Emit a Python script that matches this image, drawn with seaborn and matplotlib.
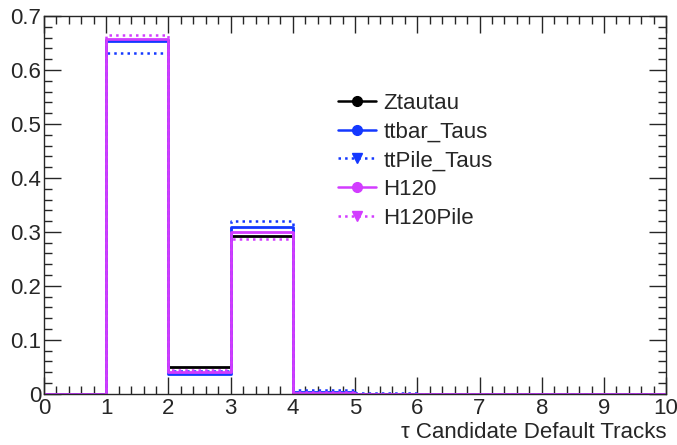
import numpy as np
import pandas as pd
import matplotlib
matplotlib.use("Agg")
import matplotlib.pyplot as plt
from matplotlib.lines import Line2D
from matplotlib.ticker import MultipleLocator, FuncFormatter
import seaborn as sns

# Fraction of tau candidates per number of default tracks (bins 0..10)
bin_edges = list(range(11))
samples = ["Ztautau", "ttbar_Taus", "ttPile_Taus", "H120", "H120Pile"]
ztautau = [0.0, 0.655, 0.050, 0.293, 0.002, 0.0, 0.0, 0.0, 0.0, 0.0]
ttbar_taus = [0.0, 0.653, 0.036, 0.310, 0.003, 0.0, 0.0, 0.0, 0.0, 0.0]
ttpile_taus = [0.0, 0.631, 0.043, 0.320, 0.007, 0.001, 0.0, 0.0, 0.0, 0.0]
h120 = [0.0, 0.658, 0.040, 0.300, 0.002, 0.0, 0.0, 0.0, 0.0, 0.0]
h120pile = [0.0, 0.665, 0.045, 0.287, 0.003, 0.0, 0.0, 0.0, 0.0, 0.0]

series = [ztautau, ttbar_taus, ttpile_taus, h120, h120pile]
colors = ["#000000", "#1438ff", "#1438ff", "#d23cff", "#d23cff"]
styles = ["-", "-", ":", "-", ":"]
markers = ["o", "o", "v", "o", "v"]

sns.set_style("ticks")
plt.rcParams["font.family"] = ["Liberation Sans", "DejaVu Sans"]

fig = plt.figure(figsize=(6.77, 4.45), dpi=100)
ax = fig.add_axes([0.065, 0.115, 0.919, 0.849])

centers = np.array(bin_edges[:-1]) + 0.5
for name, vals, c, ls in zip(samples, series, colors, styles):
    df = pd.DataFrame({"tracks": centers, "frac": vals})
    sns.histplot(data=df, x="tracks", weights="frac", bins=bin_edges,
                 element="step", fill=False, color=c, linestyle=ls,
                 linewidth=2 if ls == "-" else 1.8, ax=ax)

ax.set_xlim(0, 10)
ax.set_ylim(0, 0.7)
ax.xaxis.set_major_locator(MultipleLocator(1))
ax.xaxis.set_minor_locator(MultipleLocator(0.2))
ax.yaxis.set_major_locator(MultipleLocator(0.1))
ax.yaxis.set_minor_locator(MultipleLocator(0.02))
ax.yaxis.set_major_formatter(FuncFormatter(lambda v, p: "0" if abs(v) < 1e-9 else f"{v:.1f}"))
ax.tick_params(which="both", direction="in", top=True, right=True, labelsize=16, width=1)
ax.tick_params(axis="x", which="major", pad=3)
ax.tick_params(axis="y", which="major", pad=2)
ax.tick_params(which="major", length=12)
ax.tick_params(which="minor", length=6)
for s in ax.spines.values():
    s.set_linewidth(1)
ax.set_ylabel("")
ax.set_xlabel("τ Candidate Default Tracks", fontsize=16, loc="right", labelpad=2)

handles = [Line2D([0], [0], color=c, linestyle=ls, marker=m, markersize=7, linewidth=1.8)
           for c, ls, m in zip(colors, styles, markers)]
ax.legend(handles, samples, loc="upper left", bbox_to_anchor=(0.44, 0.85), frameon=False,
          fontsize=16, handlelength=1.7, handletextpad=0.35, labelspacing=0.35)

fig.savefig("out.png", dpi=100)
